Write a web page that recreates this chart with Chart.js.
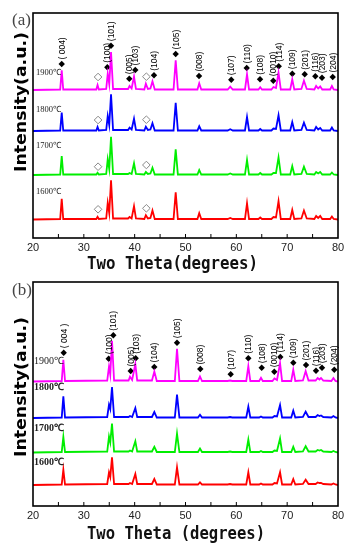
<!DOCTYPE html>
<html><head><meta charset="utf-8">
<script src="https://cdn.jsdelivr.net/npm/chart.js@4.4.1/dist/chart.umd.min.js"></script>
<style>
html,body{margin:0;padding:0;background:#fff;width:355px;height:550px;overflow:hidden}
canvas{display:block;position:absolute;left:0}
#ca{top:0}
#cb{top:275px}
</style></head><body>
<canvas id="ca" width="355" height="275"></canvas>
<canvas id="cb" width="355" height="275"></canvas>
<script>
// ---------- data ----------
const seriesNames = ['1900℃', '1800℃', '1700℃', '1600℃'];
const xTickLabels = ['20', '30', '40', '50', '60', '70', '80'];

// panel (a)
const twoThetaA = [20, 25.35, 25.65, 25.95, 32.45, 32.7, 32.95, 34.4, 34.7, 35.0,
  35.35, 35.75, 38.7, 39.0, 39.4, 39.87, 40.25, 41.9, 42.2, 42.6,
  43.1, 43.5, 43.95, 47.65, 48.07, 48.5, 52.35, 52.7, 53.1, 58.3,
  58.8, 59.3, 61.7, 62.1, 62.5, 64.35, 64.7, 65.05, 66.9, 67.3,
  67.8, 68.3, 68.75, 70.6, 71.0, 71.4, 72.8, 73.3, 73.85, 75.35,
  75.7, 76.1, 76.5, 76.9, 78.45, 78.8, 79.15, 80];
const a1900 = [0, 0.5, 19.7, 0.5, 0.5, 5, 0.5, 1, 16.3, 6,
  38, 1, 1, 4, 1.5, 13.3, 1, 0.5, 6.3, 1,
  1.5, 8.7, 0.5, 0.5, 29.7, 0.5, 0.5, 6.7, 0.5, 0.5,
  3.3, 0.5, 0.5, 15.7, 0.5, 0.5, 2.7, 0.5, 0.5, 3,
  2, 17.3, 0.5, 0.5, 10.7, 0.5, 1, 9.3, 1, 0.5,
  4, 1.5, 3.5, 0.5, 0.5, 4, 0.5, 0];
const a1800 = [0, 0.5, 18.3, 0.5, 0.5, 4, 0.5, 1, 15, 6,
  36.7, 1, 1, 3.3, 1.5, 12.3, 1, 0.5, 4.3, 1,
  1.5, 7.7, 0.5, 0.5, 28.3, 0.5, 0.5, 4.7, 0.5, 0.5,
  1.7, 0.5, 0.5, 14, 0.5, 0.5, 2, 0.5, 0.5, 2.5,
  2, 15.7, 0.5, 0.5, 9, 0.5, 1, 8.3, 1, 0.5,
  4, 1.5, 3, 0.5, 0.5, 3.5, 0.5, 0];
const a1700 = [0, 0.5, 19, 0.5, 0.5, 2.3, 0.5, 1, 15.7, 6,
  38.3, 1, 1, 2, 1, 11.7, 1, 0.5, 3, 1,
  1.5, 7.3, 0.5, 0.5, 25.7, 0.5, 0.5, 5, 0.5, 0.5,
  1.5, 0.5, 0.5, 15, 0.5, 0.5, 2, 0.5, 0.5, 2,
  2, 17.7, 0.5, 0.5, 9, 0.5, 1, 8.3, 1, 0.5,
  3, 1.5, 3, 0.5, 0.5, 2.5, 0.5, 0];
const a1600 = [0, 0.5, 20.7, 0.5, 0.5, 2.7, 0.5, 1, 16.7, 6.5,
  39.3, 1, 1, 2.5, 1, 13.3, 1, 0.5, 4.3, 1,
  1.5, 9, 0.5, 0.5, 27.3, 0.5, 0.5, 6.3, 0.5, 0.5,
  1.5, 0.5, 0.5, 16.3, 0.5, 0.5, 2, 0.5, 0.5, 2.5,
  2, 18.3, 0.5, 0.5, 9.7, 0.5, 1, 9, 1, 0.5,
  3.5, 1.5, 3.5, 0.5, 0.5, 3, 0.5, 0];
const offsetsA = [148, 107, 63, 18.5];

// panel (b)
const twoThetaB = [20, 25.65, 25.97, 26.3, 34.6, 34.95, 35.2, 35.54, 35.95, 38.8,
  39.08, 39.5, 40.13, 40.5, 43.4, 43.87, 44.35, 47.9, 48.33, 48.8,
  52.45, 52.85, 53.25, 58.3, 58.76, 59.2, 61.95, 62.36, 62.75, 64.5,
  64.85, 65.2, 67.1, 67.5, 68.0, 68.6, 69.0, 70.8, 71.2, 71.6,
  73.1, 73.64, 74.2, 75.6, 76.0, 76.35, 76.66, 77.1, 78.7, 79.1,
  79.5, 80];
const b1900 = [0, 0.5, 21.7, 0.5, 1, 15, 7, 40.7, 1, 1,
  4.7, 1.5, 17.4, 1, 1, 10, 0.5, 0.5, 32.7, 0.5,
  0.5, 5, 0.5, 0.5, 1, 0.5, 0.5, 15.3, 0.5, 0.5,
  3.7, 0.5, 0.5, 3, 1.5, 18.3, 0.5, 0.5, 11.7, 0.5,
  1, 10.3, 1, 1, 3.5, 2, 3.5, 1, 0.5, 3.5,
  0.5, 0];
const b1800 = [0, 0.5, 21.6, 0.5, 1, 13.3, 9, 31, 1, 1,
  2, 1, 10, 1, 1, 6, 0.5, 0.5, 23.3, 0.5,
  0.5, 3.3, 0.5, 0.5, 1, 0.5, 0.5, 11.3, 0.5, 0.5,
  1.5, 0.5, 0.5, 2, 1.5, 13, 0.5, 0.5, 7.3, 0.5,
  1, 6.3, 1, 1, 3, 2, 2.5, 1, 0.5, 2,
  0.5, 0];
const b1700 = [0, 0.5, 15.7, 0.5, 1, 16, 10, 29, 1, 1,
  2, 1, 11.3, 1, 1, 5.7, 0.5, 0.5, 19, 0.5,
  0.5, 4, 0.5, 0.5, 1, 0.5, 0.5, 13, 0.5, 0.5,
  1.5, 0.5, 0.5, 2, 1.5, 14, 0.5, 0.5, 5.7, 0.5,
  1, 6.3, 1, 1, 2.5, 2, 2.5, 1, 0.5, 1.5,
  0.5, 0];
const b1600 = [0, 0.5, 15.3, 0.5, 1, 12.7, 8, 27.7, 1, 1,
  2, 1, 11, 1, 1, 6, 0.5, 0.5, 17.7, 0.5,
  0.5, 2.7, 0.5, 0.5, 1, 0.5, 0.5, 12.7, 0.5, 0.5,
  1.5, 0.5, 0.5, 2, 1.5, 12.7, 0.5, 0.5, 6, 0.5,
  1, 5.3, 1, 1, 2.5, 2, 2, 1, 0.5, 1.5,
  0.5, 0];
const offsetsB = [124.5, 88, 53.5, 21];

// reflection markers (◆) with Miller indices
const hklLabelsA = ['( 004)', '(100)', '(101)', '(005)', '(103)', '(104)', '(105)', '(008)', '(107)',
  '(110)', '(108)', '(0010)', '(114)', '(109)', '(201)', '(116)', '(203)', '(204)'];
const hklLabelsB = ['( 004 )', '(100)', '(101)', '(005)', '(103)', '(104)', '(105)', '(008)', '(107)',
  '(110)', '(108)', '(0010)', '(114)', '(109)', '(201)', '(116)', '(203)', '(204)'];
const hklXA = [25.65, 34.62, 35.34, 38.94, 40.12, 43.80, 48.07, 52.66, 59.0, 62.04, 64.66, 67.27, 68.34, 71.01, 73.45, 75.54, 76.85, 78.96];
const hklYA = [174, 170.7, 192.3, 159.3, 168, 162.7, 184, 162, 158.3, 170, 158.7, 157.3, 171.7, 164.3, 163.7, 161.7, 160.3, 161];
const hklXB = [26.04, 34.89, 35.80, 39.22, 40.20, 43.86, 48.33, 52.91, 58.89, 62.36, 64.99, 67.47, 68.65, 71.21, 73.71, 75.67, 76.85, 79.27];
const hklYB = [153.3, 147.3, 170.7, 135, 147.7, 139, 163.3, 137, 131.7, 147.7, 138.3, 134.3, 149, 143.3, 141, 135.3, 138.3, 136.3];

// secondary phase markers (◇), panel (a)
const openXA = [32.8, 42.3, 32.8, 42.3, 32.8, 42.3, 32.8, 42.3];
const openYA = [161, 161.3, 118, 118.3, 71.3, 73, 28.7, 29.7];

// temperature label levels
const tempYA = [165.5, 128, 92, 46.5];
const tempYB = [145, 119, 78, 44];

// ---------- drawing ----------
const seriesColors = ['#ff00ff', '#0000ff', '#00ee00', '#ff0000'];

const decorPlugin = {
  id: 'decor',
  afterDraw(chart, args, o) {
    const {ctx, chartArea: a, scales: {x, y}} = chart;
    ctx.save();
    // frame
    ctx.strokeStyle = '#000';
    ctx.lineWidth = 1.6;
    ctx.strokeRect(a.left, a.top, a.right - a.left, a.bottom - a.top);
    // inward ticks
    ctx.lineWidth = 1;
    x.ticks.forEach(t => {
      const px = x.getPixelForValue(t.value);
      if (px <= a.left + 1 || px >= a.right - 1) return;
      ctx.beginPath(); ctx.moveTo(px, a.bottom); ctx.lineTo(px, a.bottom - 4); ctx.stroke();
    });
    // hkl labels
    ctx.fillStyle = '#000';
    ctx.font = o.hklFont;
    ctx.textAlign = 'left';
    ctx.textBaseline = 'middle';
    o.hklX.forEach((v, i) => {
      const px = x.getPixelForValue(v), py = y.getPixelForValue(o.hklY[i]);
      ctx.save();
      ctx.translate(px + 0.5, py - 4.5);
      ctx.rotate(-Math.PI / 2);
      ctx.fillText(o.hklLabels[i], 0, 0);
      ctx.restore();
    });
    // temperature labels
    ctx.fillStyle = '#222';
    o.tempY.forEach((v, i) => {
      ctx.font = o.tempFonts[i];
      ctx.fillText(seriesNames[i], a.left + o.tempDx, y.getPixelForValue(v));
    });
    // panel letter
    ctx.fillStyle = '#444';
    ctx.font = '17px "Liberation Serif", serif';
    ctx.fillText(o.panel, 12, o.panelY);
    // x-axis title
    ctx.save();
    ctx.fillStyle = '#111';
    ctx.font = 'bold 17px "DejaVu Sans Mono", monospace';
    const wx = ctx.measureText(o.xTitle).width;
    ctx.translate(o.xTitleX, o.xTitleY);
    ctx.scale(o.xTitleLen / wx, 1);
    ctx.textAlign = 'center';
    ctx.fillText(o.xTitle, 0, 0);
    ctx.restore();
    // y-axis title
    ctx.fillStyle = '#000';
    ctx.font = 'bold 15px "DejaVu Sans", sans-serif';
    const w = ctx.measureText('Intensity(a.u.)').width;
    ctx.translate(22, o.yTitleY);
    ctx.rotate(-Math.PI / 2);
    ctx.scale(o.yTitleLen / w, 1);
    ctx.textAlign = 'center';
    ctx.fillText('Intensity(a.u.)', 0, 0);
    ctx.restore();
  }
};

function makeChart(id, cfg) {
  const datasets = cfg.series.map((vals, k) => ({
    label: seriesNames[k],
    data: cfg.x.map((x, i) => ({x, y: cfg.offsets[k] + vals[i]})),
    showLine: true, borderColor: seriesColors[k], borderWidth: 1.8,
    pointRadius: 0, fill: false, tension: 0
  }));
  datasets.push({
    label: 'hkl',
    data: cfg.hklX.map((x, i) => ({x, y: cfg.hklY[i]})),
    showLine: false, pointStyle: 'rectRot', pointRadius: 3.2,
    backgroundColor: '#000', borderColor: '#000', borderWidth: 0
  });
  if (cfg.openX) {
    datasets.push({
      label: 'phase2',
      data: cfg.openX.map((x, i) => ({x, y: cfg.openY[i]})),
      showLine: false, pointStyle: 'rectRot', pointRadius: 3.8,
      backgroundColor: 'rgba(255,255,255,0)', borderColor: '#888', borderWidth: 1
    });
  }
  return new Chart(document.getElementById(id), {
    type: 'scatter',
    data: {datasets},
    options: {
      responsive: false, animation: false, devicePixelRatio: 1,
      layout: {padding: {left: 33, right: 17, top: cfg.padTop, bottom: 0}},
      plugins: {
        legend: {display: false}, tooltip: {enabled: false},
        decor: cfg.decor
      },
      scales: {
        x: {
          type: 'linear', min: 20, max: 80, position: 'bottom',
          afterFit: s => { s.height = cfg.axisH; },
          grid: {display: false, drawTicks: false}, border: {display: false},
          ticks: {
            stepSize: 5, autoSkip: false, maxRotation: 0, padding: 3, color: '#222',
            font: {family: '"Liberation Sans", Arial, sans-serif', size: 11},
            callback: v => xTickLabels.includes(String(v)) ? String(v) : ''
          },
          title: {display: false}
        },
        y: {display: false, min: 0, max: cfg.yMax}
      }
    },
    plugins: [decorPlugin]
  });
}

makeChart('ca', {
  x: twoThetaA, series: [a1900, a1800, a1700, a1600], offsets: offsetsA,
  hklX: hklXA, hklY: hklYA, openX: openXA, openY: openYA,
  padTop: 13, axisH: 37, yMax: 225,
  decor: {
    hklX: hklXA, hklY: hklYA, hklLabels: hklLabelsA, hklFont: '8.5px "Liberation Sans", Arial, sans-serif',
    tempY: tempYA, tempDx: 3,
    tempFonts: ['8.5px "Liberation Serif", serif', '8.5px "Liberation Serif", serif', '8.5px "Liberation Serif", serif', '8.5px "Liberation Serif", serif'],
    panel: '(a)', panelY: 20.5, yTitleY: 102, yTitleLen: 140,
    xTitle: 'Two Theta(degrees)', xTitleX: 172.5, xTitleY: 265, xTitleLen: 171
  }
});

makeChart('cb', {
  x: twoThetaB, series: [b1900, b1800, b1700, b1600], offsets: offsetsB,
  hklX: hklXB, hklY: hklYB,
  padTop: 7, axisH: 44, yMax: 224,
  decor: {
    hklX: hklXB, hklY: hklYB, hklLabels: hklLabelsB, hklFont: '8.5px "Liberation Sans", Arial, sans-serif',
    tempY: tempYB, tempDx: 1,
    tempFonts: ['10px "Liberation Serif", serif', 'bold 10px "Liberation Serif", serif', 'bold 10px "Liberation Serif", serif', 'bold 10px "Liberation Serif", serif'],
    panel: '(b)', panelY: 15.5, yTitleY: 112, yTitleLen: 140,
    xTitle: 'Two Theta (degrees)', xTitleX: 176, xTitleY: 260, xTitleLen: 178
  }
});
</script>
</body></html>
